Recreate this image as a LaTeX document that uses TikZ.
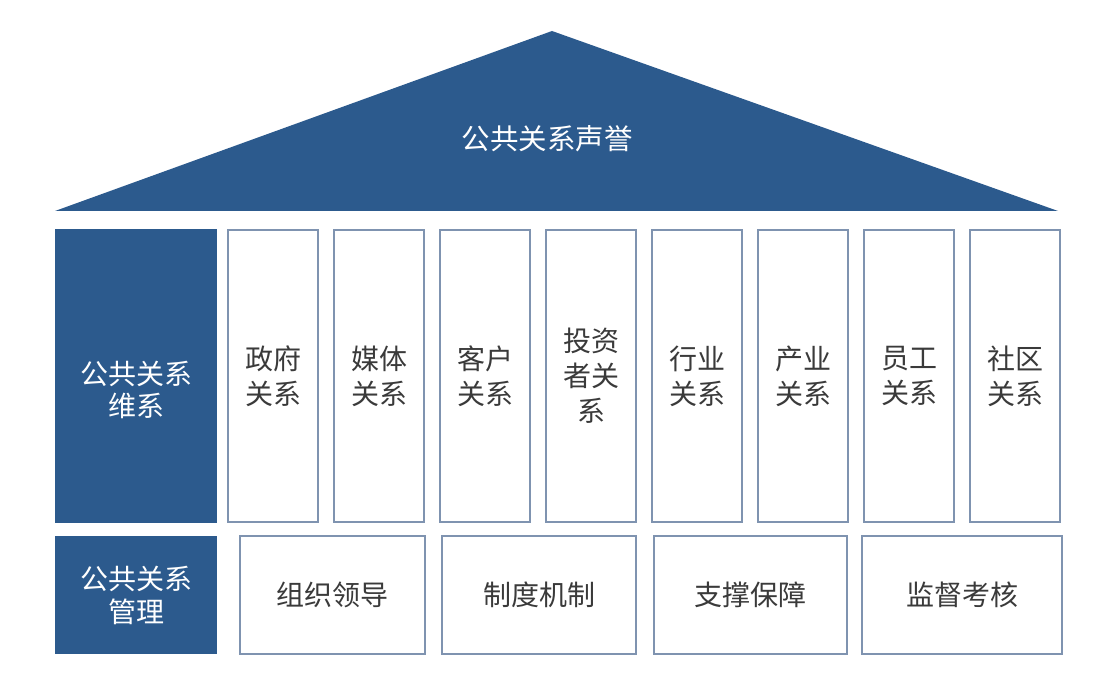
\documentclass[tikz,border=0pt]{standalone}
\usepackage{fontspec}
\newfontfamily\cjk{Noto Sans CJK SC}
\usetikzlibrary{positioning}
\definecolor{roofblue}{HTML}{2C5A8D}
\definecolor{pillarline}{HTML}{7F93B0}
\definecolor{labelgray}{HTML}{3A3A3A}
\begin{document}
\begin{tikzpicture}[x=1pt,y=1pt]
            \tikzstyle{darkbox} = [rectangle, fill=roofblue, draw=none, text=white, align=center, font=\cjk\fontsize{28}{33}\selectfont, minimum width=162pt, inner sep=0pt]
            \tikzstyle{pillar} = [rectangle, draw=pillarline, line width=1.6pt, fill=white, text=labelgray, align=center, font=\cjk\fontsize{28}{35}\selectfont, minimum width=90.5pt, minimum height=292.5pt, inner sep=0pt, outer sep=0pt]
            \tikzstyle{basebox} = [rectangle, draw=pillarline, line width=1.6pt, fill=white, text=labelgray, font=\cjk\fontsize{28}{33}\selectfont, minimum height=118.5pt, inner sep=0pt, outer sep=0pt]
            \useasboundingbox (0,0) rectangle (1107,682);
            \fill[roofblue] (55,471) -- (552,651) -- (1058,471) -- cycle;
            \node [text=white, font=\cjk\fontsize{28.5}{33}\selectfont] (reputation) at (547,543) {公共关系声誉};

            \node [darkbox, minimum height=294pt] (upkeep) at (136,306) {};
            \node [text=white, align=center, font=\cjk\fontsize{28}{32}\selectfont] (upkeeplabel) at (136,292) {公共关系\\维系};
            \node [darkbox, minimum height=118pt] (manage) at (136,87) {公共关系\\管理};

            \node [pillar] (government) at (273,306) {政府\\关系};
            \node [pillar, right=15.5pt of government] (media) {媒体\\关系};
            \node [pillar, right=15.5pt of media] (customer) {客户\\关系};
            \node [pillar, right=15.5pt of customer] (investor) {投资\\者关\\系};
            \node [pillar, right=15.5pt of investor] (industry) {行业\\关系};
            \node [pillar, right=15.5pt of industry] (sector) {产业\\关系};
            \node [pillar, right=15.5pt of sector] (staff) {员工\\关系};
            \node [pillar, right=15.5pt of staff] (community) {社区\\关系};

            \node [basebox, minimum width=185.5pt] (leadership) at (332.5,87) {组织领导};
            \node [basebox, minimum width=194.5pt] (mechanism) at (539,87) {制度机制};
            \node [basebox, minimum width=193.5pt] (support) at (750.5,87) {支撑保障};
            \node [basebox, minimum width=200.5pt] (supervision) at (962,87) {监督考核};
        \end{tikzpicture}
\end{document}
